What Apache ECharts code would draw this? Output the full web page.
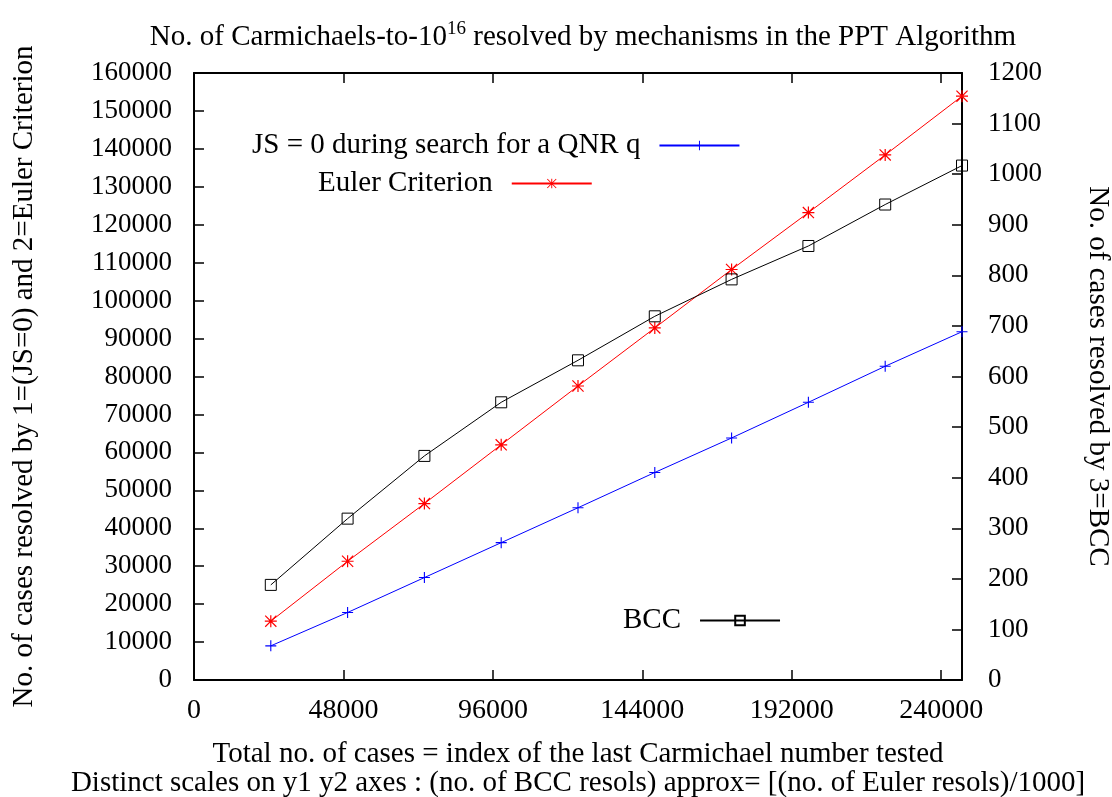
<!DOCTYPE html>
<html>
<head>
<meta charset="utf-8">
<title>Carmichaels resolved by mechanisms</title>
<script src="https://cdn.jsdelivr.net/npm/echarts@6/dist/echarts.min.js"></script>
<style>
  html, body { margin: 0; padding: 0; background: #fff; }
  #chart { width: 1112px; height: 797px; }
</style>
</head>
<body>
<div id="chart"></div>
<script>
// ---- data ----
const xCases = [24668, 49336, 74004, 98672, 123340, 148008, 172676, 197344, 222012, 246683]
const jsZero = [9000, 17800, 27000, 36200, 45400, 54700, 63800, 73200, 82700, 91800]
const euler  = [15500, 31300, 46500, 62000, 77500, 92800, 108200, 123200, 138400, 153900]
const bcc    = [188, 319, 443, 549, 632, 719, 792, 858, 940, 1017]

const FONT = '"Liberation Serif", "Times New Roman", serif'
const X_MAX = 246683

// gnuplot-like point types
const PLUS = 'path://M4.5,0H5.5V10H4.5ZM0,4.5H10V5.5H0Z'
const STAR = 'path://M4.5,0H5.5V10H4.5ZM0,4.5H10V5.5H0Z' +
  'M0,0.7L0.7,0L10,9.3L9.3,10ZM9.3,0L10,0.7L0.7,10L0,9.3Z'

function pairs(ys) { return xCases.map((x, i) => [x, ys[i]]) }
function plain(v) { return String(v) }

function lineSeries(name, ys, color, symbol, size, yIdx) {
  return {
    name, type: 'line', yAxisIndex: yIdx,
    data: pairs(ys),
    symbol, symbolSize: size,
    lineStyle: { color, width: 1 },
    itemStyle: symbol === 'rect'
      ? { color: 'transparent', borderColor: color, borderWidth: 1 }
      : { color },
    emphasis: { disabled: true }
  }
}

function legendAt(name, left, top) {
  return {
    data: [name], left, top, padding: 0,
    align: 'right', itemWidth: 80, itemHeight: 12,
    selectedMode: false,
    textStyle: { fontFamily: FONT, fontSize: 29, color: '#000', padding: [0, 14, 0, 0] }
  }
}

const frame = { show: true, onZero: false, lineStyle: { color: '#000', width: 2 } }
const ticks = { show: true, inside: true, length: 10, lineStyle: { color: '#000', width: 1.5 } }
const nameStyle = { fontFamily: FONT, fontSize: 29, color: '#000' }

const chart = echarts.init(document.getElementById('chart'))
chart.setOption({
  animation: false,
  backgroundColor: '#fff',
  title: {
    text: 'No. of Carmichaels-to-10{sup|16} resolved by mechanisms in the PPT Algorithm',
    left: 578, top: 15, textAlign: 'center',
    textStyle: {
      fontFamily: FONT, fontSize: 29, fontWeight: 'normal', color: '#000',
      rich: {
        sup: { fontFamily: FONT, fontSize: 19, color: '#000', verticalAlign: 'top', lineHeight: 34 }
      }
    }
  },
  legend: [
    legendAt('JS = 0 during search for a QNR q', 252, 131),
    legendAt('Euler Criterion', 318, 169),
    legendAt('BCC', 623, 606)
  ],
  grid: { left: 194, top: 73, right: 150, bottom: 117, containLabel: false, outerBoundsMode: 'none' },
  xAxis: [
    {
      type: 'value', position: 'bottom', min: 0, max: X_MAX, interval: 48000,
      axisLine: frame, axisTick: ticks, splitLine: { show: false },
      axisLabel: { fontFamily: FONT, fontSize: 28, color: '#000', margin: 17, showMaxLabel: false, formatter: plain },
      name: 'Total no. of cases = index of the last Carmichael number tested\n' +
            'Distinct scales on y1 y2 axes : (no. of BCC resols) approx= [(no. of Euler resols)/1000]',
      nameLocation: 'middle', nameGap: 60,
      nameTextStyle: { ...nameStyle, lineHeight: 29 }
    },
    {
      type: 'value', position: 'top', min: 0, max: X_MAX, interval: 48000,
      axisLine: frame, axisTick: ticks, splitLine: { show: false },
      axisLabel: { show: false }
    }
  ],
  yAxis: [
    {
      type: 'value', position: 'left', min: 0, max: 160000, interval: 10000,
      axisLine: frame, axisTick: ticks, splitLine: { show: false },
      axisLabel: { fontFamily: FONT, fontSize: 27, color: '#000', margin: 22, formatter: plain },
      name: 'No. of cases resolved by 1=(JS=0) and 2=Euler Criterion',
      nameLocation: 'middle', nameGap: 155, nameRotate: 90,
      nameTextStyle: nameStyle
    },
    {
      type: 'value', position: 'right', min: 0, max: 1200, interval: 100,
      axisLine: frame, axisTick: ticks, splitLine: { show: false },
      axisLabel: { fontFamily: FONT, fontSize: 27, color: '#000', margin: 26, formatter: plain },
      name: 'No. of cases resolved by 3=BCC',
      nameLocation: 'middle', nameGap: 121, nameRotate: -90,
      nameTextStyle: nameStyle
    }
  ],
  series: [
    lineSeries('JS = 0 during search for a QNR q', jsZero, '#0000ff', PLUS, 11, 0),
    lineSeries('Euler Criterion', euler, '#ff0000', STAR, 12, 0),
    lineSeries('BCC', bcc, '#000000', 'rect', 11, 1)
  ]
})
</script>
</body>
</html>
